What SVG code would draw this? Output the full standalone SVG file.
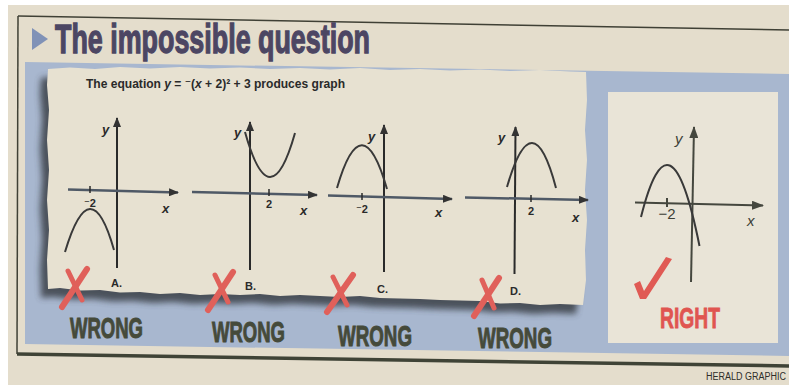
<svg xmlns="http://www.w3.org/2000/svg" width="789" height="385" viewBox="0 0 789 385">
  <defs>
    <style>
      .xax{stroke:#4f5966;stroke-width:2.5;fill:none}
      .yax{stroke:#2a2a2a;stroke-width:2;fill:none}
      .tick{stroke:#2a2a2a;stroke-width:1.5}
      .curve{fill:none;stroke:#393939;stroke-width:2}
      .lbl{font-family:"Liberation Sans",Arial,"DejaVu Sans",sans-serif;fill:#2a2a2a}
      .var{font-style:italic;font-size:13px;font-weight:bold}
      .num{font-size:11px;font-weight:bold;text-anchor:middle}
      .let{font-size:11px;font-weight:bold}
      .wrong{font-family:"Liberation Sans Narrow","Liberation Sans",Arial,sans-serif;font-weight:bold;font-size:30px;fill:#454a3a;stroke:#454a3a;stroke-width:1}
      .xm{stroke:#e0605a;stroke-linecap:round;fill:none}
      .rax{stroke:#45473e;stroke-width:2;fill:none}
      .rlbl{font-family:"Liberation Sans",Arial,sans-serif;fill:#3e3f36;font-size:15px}
    </style>
    <marker id="ah" viewBox="0 0 10 8" refX="9" refY="4" markerWidth="10" markerHeight="8" orient="auto" markerUnits="userSpaceOnUse">
      <path d="M0,0 L10,4 L0,8 z" fill="#333"/>
    </marker>
    <marker id="ahr" viewBox="0 0 12 9" refX="11" refY="4.5" markerWidth="12" markerHeight="9" orient="auto" markerUnits="userSpaceOnUse">
      <path d="M0,0 L12,4.5 L0,9 z" fill="#45473e"/>
    </marker>
    <filter id="sh" x="-10%" y="-10%" width="120%" height="130%">
      <feGaussianBlur stdDeviation="3"/>
    </filter>
  </defs>

  <!-- page -->
  <rect x="0" y="0" width="789" height="385" fill="#ffffff"/>
  <rect x="8" y="5" width="781" height="380" fill="#e4ddcc"/>
  <line x1="18" y1="16" x2="789" y2="30" stroke="#3f4035" stroke-width="1.5"/>
  <line x1="18" y1="16" x2="17" y2="354" stroke="#3f4035" stroke-width="1.5"/>
  <line x1="17" y1="354" x2="789" y2="366" stroke="#3f4336" stroke-width="3.5"/>

  <!-- blue band -->
  <polygon points="25,62 789,74 789,356 25,344" fill="#a8b7cf"/>

  <!-- title -->
  <g id="title">
    <polygon points="32,28 48,39 32,50" fill="#8092b7"/>
    <text x="55" y="53" font-family="'Liberation Sans Narrow','Liberation Sans',Arial,sans-serif" font-weight="bold" font-size="40" fill="#4c4663" stroke="#4c4663" stroke-width="1.3" textLength="315" lengthAdjust="spacingAndGlyphs">The impossible question</text>
  </g>

  <!-- torn paper -->
  <g id="paper">
    <path transform="translate(-7,9)" filter="url(#sh)" fill="#3b4047" opacity="0.85" d="M48,69 L70,67.5 L95,69 L120,67 L150,68.5 L180,67 L210,68.5 L240,67.5 L270,69 L300,68 L330,69.5 L360,68 L390,70 L420,69 L450,70.5 L480,69.5 L510,71 L540,70 L570,71.5 L586,72 L587,100 L585,130 L587,160 L585,190 L587,220 L585,250 L586,280 L583,305 L560,304 L540,305 L520,303 L500,303.5 L480,301 L460,300.5 L440,300 L420,299 L400,298.5 L380,298 L360,296 L340,297 L320,296 L300,295 L280,296 L260,294 L240,295 L220,294 L200,295 L180,293 L160,294 L140,292 L120,292.5 L100,290 L80,290.5 L60,288 L48,289 L47,260 L49,230 L47,200 L49,170 L47,140 L49,110 L47,85 Z"/>
    <path fill="#e7e1d1" d="M48,69 L70,67.5 L95,69 L120,67 L150,68.5 L180,67 L210,68.5 L240,67.5 L270,69 L300,68 L330,69.5 L360,68 L390,70 L420,69 L450,70.5 L480,69.5 L510,71 L540,70 L570,71.5 L586,72 L587,100 L585,130 L587,160 L585,190 L587,220 L585,250 L586,280 L583,305 L560,304 L540,305 L520,303 L500,303.5 L480,301 L460,300.5 L440,300 L420,299 L400,298.5 L380,298 L360,296 L340,297 L320,296 L300,295 L280,296 L260,294 L240,295 L220,294 L200,295 L180,293 L160,294 L140,292 L120,292.5 L100,290 L80,290.5 L60,288 L48,289 L47,260 L49,230 L47,200 L49,170 L47,140 L49,110 L47,85 Z"/>
  </g>

  <!-- right panel -->
  <rect id="rightPanel" x="608" y="92" width="170" height="251" fill="#e9e4d7"/>

  <!-- equation -->
  <g id="equation">
    <text class="lbl" x="86" y="88" font-size="12.5" font-weight="bold" textLength="259" lengthAdjust="spacingAndGlyphs">The equation <tspan font-style="italic">y</tspan> = ⁻(<tspan font-style="italic">x</tspan> + 2)² + 3 produces graph</text>
  </g>

  <!-- graph A -->
  <g id="graphA">
    <line class="yax" x1="117" y1="268" x2="117" y2="118" marker-end="url(#ah)"/>
    <line class="xax" x1="68" y1="189.5" x2="178" y2="192.5" marker-end="url(#ah)"/>
    <line class="tick" x1="90" y1="186" x2="90" y2="193"/>
    <path class="curve" d="M65,252 Q90.5,167 114,250"/>
    <text class="lbl var" x="102" y="134">y</text>
    <text class="lbl var" x="162" y="213" font-weight="normal">x</text>
    <text class="lbl num" x="90" y="207">⁻2</text>
    <text class="lbl let" x="111" y="287">A.</text>
  </g>

  <!-- graph B -->
  <g id="graphB">
    <line class="yax" x1="250" y1="270" x2="250" y2="122" marker-end="url(#ah)"/>
    <line class="xax" x1="192" y1="192" x2="317" y2="195" marker-end="url(#ah)"/>
    <line class="tick" x1="269" y1="189" x2="269" y2="196"/>
    <path class="curve" d="M245,132 Q270,221.5 295,133"/>
    <text class="lbl var" x="234" y="137">y</text>
    <text class="lbl var" x="300" y="215" font-weight="normal">x</text>
    <text class="lbl num" x="269" y="208">2</text>
    <text class="lbl let" x="245" y="290">B.</text>
  </g>

  <!-- graph C -->
  <g id="graphC">
    <line class="yax" x1="384" y1="272" x2="384" y2="125" marker-end="url(#ah)"/>
    <line class="xax" x1="328" y1="195.5" x2="452" y2="199" marker-end="url(#ah)"/>
    <line class="tick" x1="362" y1="193" x2="362" y2="200"/>
    <path class="curve" d="M337,188 Q362,102 387,189"/>
    <text class="lbl var" x="368" y="141">y</text>
    <text class="lbl var" x="435" y="217" font-weight="normal">x</text>
    <text class="lbl num" x="362" y="213">⁻2</text>
    <text class="lbl let" x="377" y="293">C.</text>
  </g>

  <!-- graph D -->
  <g id="graphD">
    <line class="yax" x1="514.5" y1="274" x2="515.5" y2="127" marker-end="url(#ah)"/>
    <line class="xax" x1="465" y1="197.5" x2="588" y2="200" marker-end="url(#ah)"/>
    <line class="tick" x1="531" y1="195" x2="531" y2="202"/>
    <path class="curve" d="M507,187 Q532.5,98.5 556,188"/>
    <text class="lbl var" x="498" y="142">y</text>
    <text class="lbl var" x="572" y="222" font-weight="normal">x</text>
    <text class="lbl num" x="531" y="215">2</text>
    <text class="lbl let" x="510" y="295">D.</text>
  </g>

  <!-- red crosses -->
  <g id="crosses">
    <line class="xm" stroke-width="6" x1="62" y1="307" x2="87" y2="269"/>
    <line class="xm" stroke-width="5" x1="68" y1="271" x2="82" y2="300"/>
    <line class="xm" stroke-width="6" x1="208" y1="310" x2="233" y2="272"/>
    <line class="xm" stroke-width="5" x1="215" y1="275" x2="228" y2="302"/>
    <line class="xm" stroke-width="6" x1="327" y1="312" x2="353" y2="275"/>
    <line class="xm" stroke-width="5" x1="333" y1="277" x2="347" y2="305"/>
    <line class="xm" stroke-width="6" x1="474" y1="316" x2="499" y2="278"/>
    <line class="xm" stroke-width="5" x1="482" y1="280" x2="494" y2="308"/>
  </g>

  <!-- WRONG labels -->
  <g id="wrongLabels">
    <text class="wrong" x="70" y="338" textLength="73" lengthAdjust="spacingAndGlyphs">WRONG</text>
    <text class="wrong" x="212" y="342" textLength="73" lengthAdjust="spacingAndGlyphs">WRONG</text>
    <text class="wrong" x="338" y="346" textLength="74" lengthAdjust="spacingAndGlyphs">WRONG</text>
    <text class="wrong" x="478" y="348" textLength="74" lengthAdjust="spacingAndGlyphs">WRONG</text>
  </g>

  <!-- right graph -->
  <g id="graphRight">
    <line class="rax" x1="691" y1="282" x2="694" y2="127" marker-end="url(#ahr)"/>
    <line class="rax" x1="635" y1="202.5" x2="763" y2="205.5" marker-end="url(#ahr)"/>
    <line class="rax" x1="667" y1="198" x2="667" y2="207"/>
    <path class="curve" stroke="#3e3f36" d="M641,217 Q670.25,100 699.5,246"/>
    <text class="rlbl" x="675" y="144" font-style="italic">y</text>
    <text class="rlbl" x="747" y="226" font-style="italic">x</text>
    <text class="rlbl" x="667" y="219" text-anchor="middle" font-size="14">−2</text>
  </g>

  <!-- tick and RIGHT -->
  <g id="right">
    <polygon points="634,284 640,281 644,291 666,257 672,259 646,299 640,299" fill="#e05a54"/>
    <text x="660" y="328" font-family="'Liberation Sans Narrow','Liberation Sans',Arial,sans-serif" font-weight="bold" font-size="29" fill="#e05550" stroke="#e05550" stroke-width="0.8" textLength="60" lengthAdjust="spacingAndGlyphs">RIGHT</text>
  </g>

  <text id="credit" x="706" y="380" font-family="'Liberation Sans',Arial,sans-serif" font-size="10" fill="#2e2e2a" textLength="80" lengthAdjust="spacingAndGlyphs">HERALD GRAPHIC</text>
</svg>
